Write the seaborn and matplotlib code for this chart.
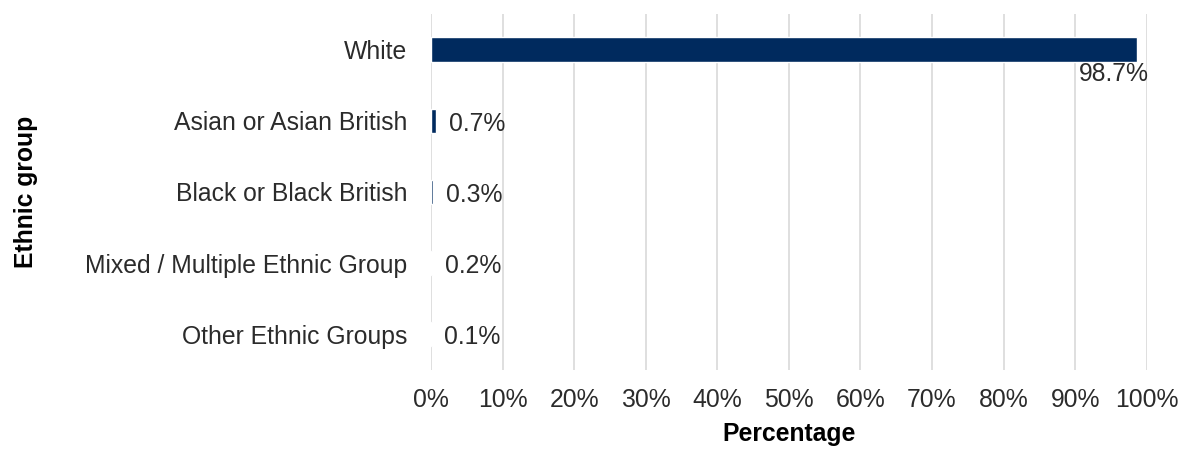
import matplotlib
matplotlib.use("Agg")
import matplotlib.pyplot as plt
import seaborn as sns
import pandas as pd
from matplotlib.ticker import FuncFormatter, MultipleLocator

groups = ["White", "Asian or Asian British", "Black or Black British",
          "Mixed / Multiple Ethnic Group", "Other Ethnic Groups"]
shares = [98.7, 0.7, 0.3, 0.2, 0.1]
share_labels = ["98.7%", "0.7%", "0.3%", "0.2%", "0.1%"]

sns.set_theme(style="white")
plt.rcParams["font.family"] = ["Liberation Sans", "DejaVu Sans"]

df = pd.DataFrame({"group": groups, "share": shares})

fig = plt.figure(figsize=(11.81, 4.51), dpi=100)
ax = fig.add_axes([0.365, 0.180, 0.606, 0.789])

sns.barplot(data=df, x="share", y="group", orient="h", color="#002a5e",
            width=0.34, saturation=1, ax=ax)

fs = 17.8
ax.set_xlim(0, 100)
ax.set_ylim(4.5, -0.5)
ax.xaxis.set_major_locator(MultipleLocator(10))
ax.xaxis.set_major_formatter(FuncFormatter(lambda v, p: f"{v:.0f}%"))
ax.grid(axis="x", color="#d9d9d9", linewidth=1.2)
ax.set_axisbelow(True)
for s in ax.spines.values():
    s.set_visible(False)
ax.tick_params(axis="both", length=0, labelsize=fs, colors="#2b2b2b")
ax.tick_params(axis="y", pad=17)
ax.tick_params(axis="x", pad=13)

ax.set_xlabel("Percentage", fontsize=fs, fontweight="bold", color="black", labelpad=7)
ax.set_ylabel("Ethnic group", fontsize=fs, fontweight="bold", color="black")
ax.yaxis.set_label_coords(-0.549, 0.5)

for i, (v, lab) in enumerate(zip(shares, share_labels)):
    if i == 0:
        ax.annotate(lab, (v, i), xytext=(8, -9), textcoords="offset points",
                    ha="right", va="top", fontsize=fs, color="#2b2b2b")
    else:
        ax.annotate(lab, (v, i), xytext=(9, -2), textcoords="offset points",
                    ha="left", va="center", fontsize=fs, color="#2b2b2b")

fig.savefig("out.png", dpi=100)
